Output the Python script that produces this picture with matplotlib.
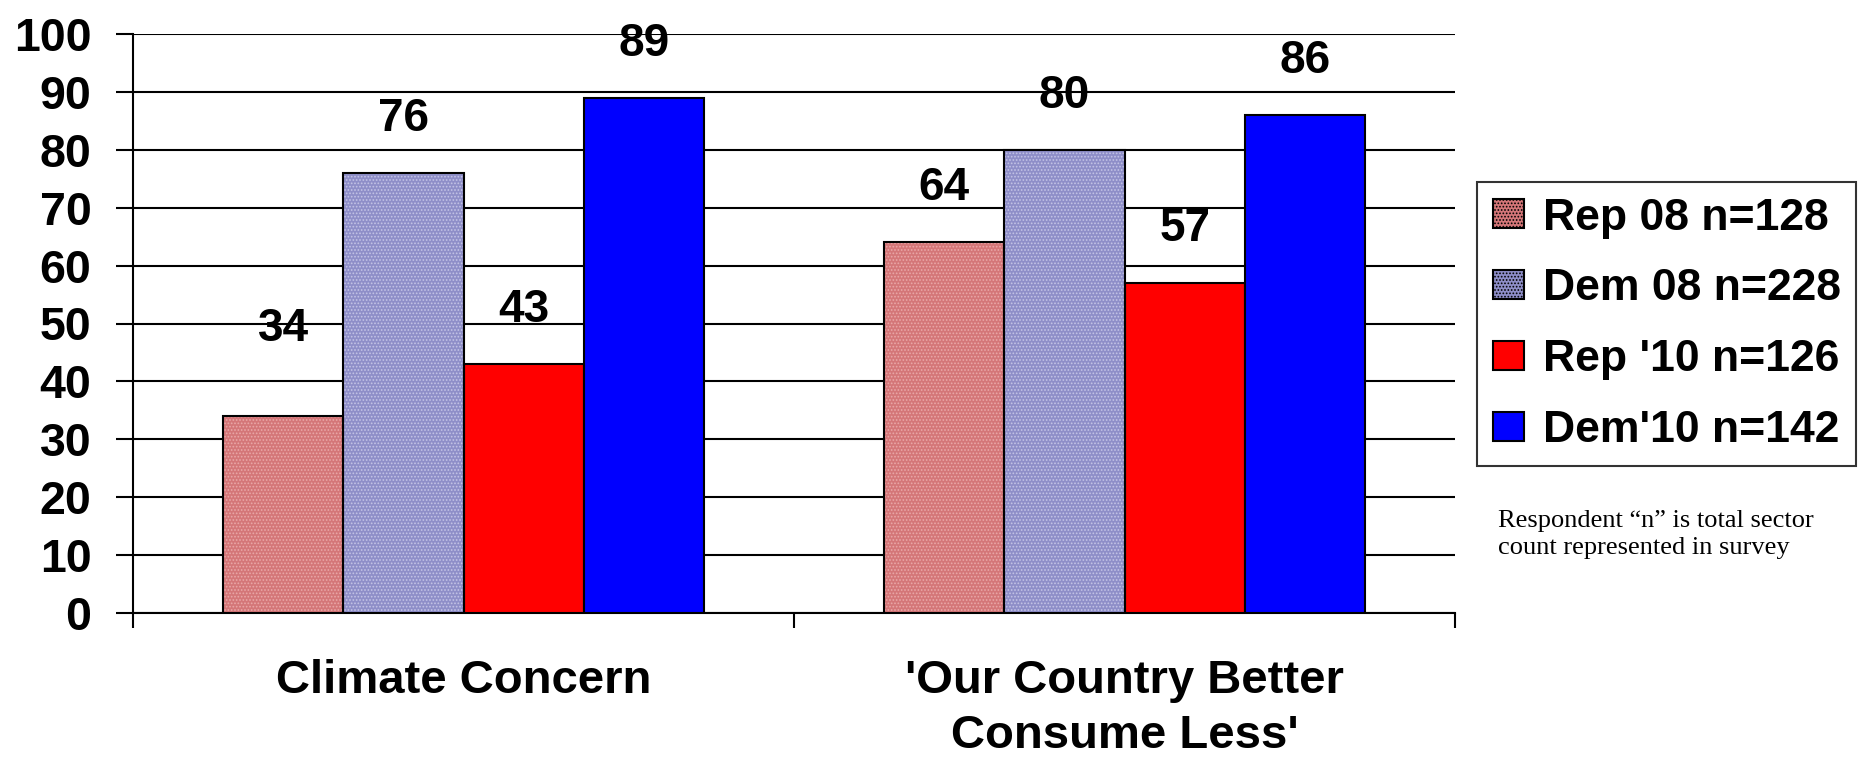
import matplotlib
matplotlib.use("Agg")
import matplotlib.pyplot as plt
from matplotlib.patches import Patch
import numpy as np

categories = ["Climate Concern", "'Our Country Better\nConsume Less'"]
series_names = ["Rep 08 n=128", "Dem 08 n=228", "Rep '10 n=126", "Dem'10 n=142"]
rep08 = [34, 64]
dem08 = [76, 80]
rep10 = [43, 57]
dem10 = [89, 86]
yticks = [0, 10, 20, 30, 40, 50, 60, 70, 80, 90, 100]
note = "Respondent \u201cn\u201d is total sector\ncount represented in survey"

values = [rep08, dem08, rep10, dem10]
face = ["#d47678", "#8e8ec8", "#ff0000", "#0000ff"]
hatchc = ["#eaa8a8", "#c4c4e6", None, None]
label_offsets = [[63, 39], [39, 39], [39, 39], [39, 39]]

plt.rcParams['font.family'] = ['Liberation Sans', 'DejaVu Sans']
plt.rcParams['hatch.linewidth'] = 0.8

fig = plt.figure(figsize=(18.73, 7.62), dpi=100)
ax = fig.add_axes([133/1873, 1-613/762, (1455-133)/1873, (613-34)/762])

x = np.arange(len(categories))
w = 0.182
handles = []
for i, vals in enumerate(values):
    pos = x + (i - 1.5) * w
    if hatchc[i]:
        plt.rcParams['hatch.color'] = hatchc[i]
        ax.bar(pos, vals, w, color=face[i], edgecolor=hatchc[i], hatch='.....', lw=0, zorder=3)
        ax.bar(pos, vals, w, fill=False, edgecolor='black', lw=1.5, zorder=4)
        handles.append(Patch(facecolor=face[i], edgecolor='black', hatch='.....', lw=1.5))
    else:
        ax.bar(pos, vals, w, color=face[i], edgecolor='black', lw=1.5, zorder=3)
        handles.append(Patch(facecolor=face[i], edgecolor='black', lw=1.5))
    for j, (p, v) in enumerate(zip(pos, vals)):
        ax.annotate(str(v), (p, v), xytext=(0, label_offsets[i][j]), textcoords='offset points',
                    ha='center', va='center', fontsize=33, fontweight='bold')

ax.set_ylim(0, 100)
ax.set_xlim(-0.5, len(categories) - 0.5)
ax.set_yticks(yticks)
ax.set_yticklabels([str(t) for t in yticks], fontsize=33.5, fontweight='bold')
ax.yaxis.grid(True, color='black', lw=1.5, zorder=1)
ax.set_axisbelow(True)
ax.tick_params(axis='y', direction='out', length=12, width=1.5, pad=18)
ax.set_xticks(x)
ax.set_xticklabels(categories, fontsize=34, fontweight='bold', linespacing=1.33)
ax.set_xticks(np.arange(len(categories) + 1) - 0.5, minor=True)
ax.tick_params(axis='x', which='major', length=0, pad=33)
ax.tick_params(axis='x', which='minor', direction='out', length=11, width=1.5)
for s in ['top', 'right']:
    ax.spines[s].set_visible(False)
for s in ['left', 'bottom']:
    ax.spines[s].set_linewidth(1.5)

leg = fig.legend(handles, series_names, loc='upper left',
                 bbox_to_anchor=(1477/1873, 1-182/762), prop={'size': 32, 'weight': 'bold'},
                 frameon=True, fancybox=False, edgecolor='black', handlelength=0.7, handleheight=0.63,
                 handletextpad=0.43, labelspacing=0.67, borderpad=0.35, borderaxespad=0)
leg.get_frame().set_linewidth(1.5)

fig.text(1498/1873, 1-510/762, note, family='Liberation Serif', fontsize=19, va='top', ha='left',
         linespacing=1.28)

fig.savefig("out.png", dpi=100)
